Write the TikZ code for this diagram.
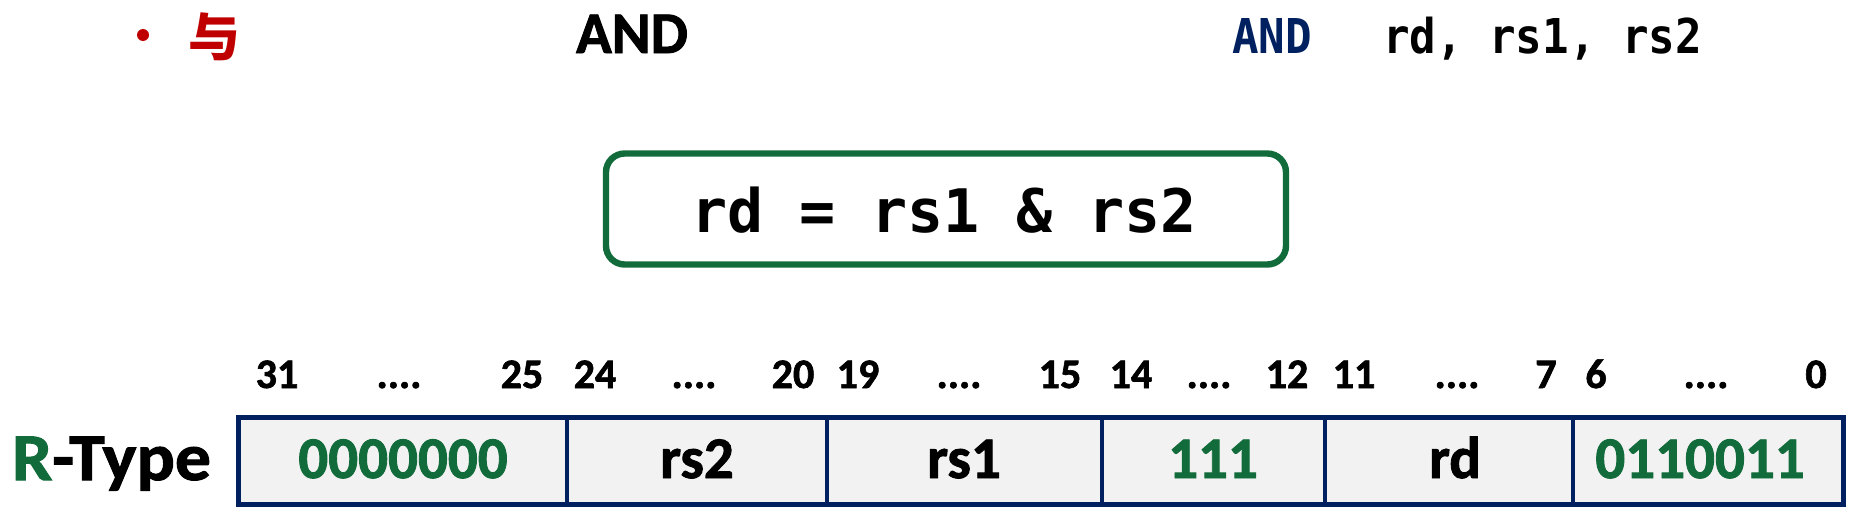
\documentclass[tikz,border=0pt]{standalone}
\usepackage{fontspec}
\newfontfamily\cjk{Noto Sans CJK SC}
\newfontfamily\latin{Carlito}[BoldFeatures={FakeBold=1.5}]
\newfontfamily\latinwide{Carlito}[FakeStretch=1.07, BoldFeatures={FakeBold=1.5}]
\newfontfamily\monoA{DejaVu Sans Mono}[FakeStretch=0.92]
\newfontfamily\monoB{DejaVu Sans Mono}
\definecolor{navy}{HTML}{002060}
\definecolor{dkgreen}{HTML}{126B3B}
\definecolor{dkred}{HTML}{C00000}
\definecolor{cellgray}{HTML}{F2F2F2}
\begin{document}
\begin{tikzpicture}[x=0.75pt,y=-0.75pt,
  txt/.style={inner sep=0pt, outer sep=0pt},
  head/.style={txt, anchor=base, font=\latin\bfseries\fontsize{44.25}{45}\selectfont},
  code/.style={txt, anchor=base west, font=\monoA\bfseries\fontsize{36}{36}\selectfont},
  bitlbl/.style={txt, anchor=base, font=\latin\bfseries\fontsize{31.5}{32}\selectfont},
  fieldtxt/.style={txt, anchor=base, font=\latin\bfseries\fontsize{44.25}{45}\selectfont},
  cell/.style={draw=navy, fill=cellgray, line width=3.6pt},
  eqbox/.style={draw=dkgreen, line width=4.8pt, rounded corners=14pt, minimum width=510pt, minimum height=83.25pt, inner sep=0pt}
]
\useasboundingbox (0,0) rectangle (1851,514);

% top line
\node[circle, fill=dkred, inner sep=0pt, minimum size=9pt] (bullet) at (143,35) {};
\node[txt, anchor=base, text=dkred, font=\cjk\bfseries\fontsize{39}{39}\selectfont] (yu) at (214,56) {与};
\node[head] (andL) at (632,53) {AND};
\node[code, text=navy] (andR) at (1232,53) {AND};
\node[code] (ops) at (1383,53) {rd, rs1, rs2};

% formula box
\node[eqbox] (eq) at (946,209) {};
\node[txt, anchor=base, font=\monoB\bfseries\fontsize{45}{45}\selectfont] (eqtext) at (944,232) {rd = rs1 \& rs2};

% bit numbers
\node[bitlbl] (b31) at (277,388) {31};
\node[bitlbl] (d1) at (399,388) {....};
\node[bitlbl] (b25) at (522,388) {25};
\node[bitlbl] (b24) at (595,388) {24};
\node[bitlbl] (d2) at (694,388) {....};
\node[bitlbl] (b20) at (793,388) {20};
\node[bitlbl] (b19) at (858,388) {19};
\node[bitlbl] (d3) at (959,388) {....};
\node[bitlbl] (b15) at (1060,388) {15};
\node[bitlbl] (b14) at (1131,388) {14};
\node[bitlbl] (d4) at (1209,388) {....};
\node[bitlbl] (b12) at (1287,388) {12};
\node[bitlbl] (b11) at (1354,388) {11};
\node[bitlbl] (d5) at (1457,388) {....};
\node[bitlbl] (b7) at (1546,388) {7};
\node[bitlbl] (b6) at (1596,388) {6};
\node[bitlbl] (d6) at (1706,388) {....};
\node[bitlbl] (b0) at (1816,388) {0};

% R-Type label
\node[txt, anchor=base west, font=\latinwide\bfseries\fontsize{50.25}{51}\selectfont] (rtype) at (12,480) {\textcolor{dkgreen}{R}-Type};

% table cells
\draw[cell] (238.5,417.5) rectangle (567,504.5);
\draw[cell] (567,417.5) rectangle (827,504.5);
\draw[cell] (827,417.5) rectangle (1102,504.5);
\draw[cell] (1102,417.5) rectangle (1325,504.5);
\draw[cell] (1325,417.5) rectangle (1573,504.5);
\draw[cell] (1573,417.5) rectangle (1843.5,504.5);

\node[fieldtxt, text=dkgreen] (funct7) at (403,478) {0000000};
\node[fieldtxt] (rs2) at (697,478) {rs2};
\node[fieldtxt] (rs1) at (964,478) {rs1};
\node[fieldtxt, text=dkgreen] (funct3) at (1213,478) {111};
\node[fieldtxt] (rd) at (1455,478) {rd};
\node[fieldtxt, text=dkgreen] (opcode) at (1700,478) {0110011};
\end{tikzpicture}
\end{document}
